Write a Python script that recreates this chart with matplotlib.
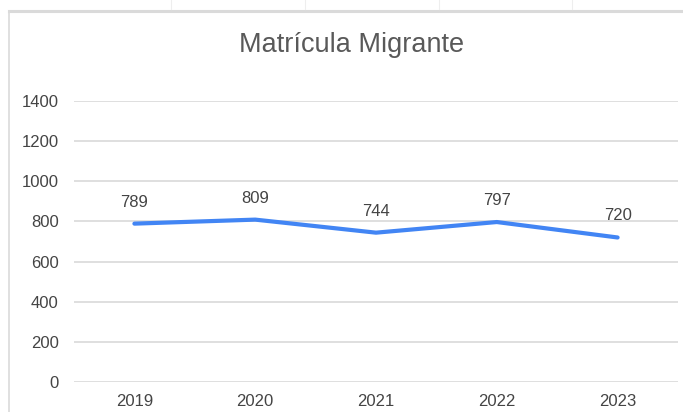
import matplotlib.pyplot as plt
from matplotlib.lines import Line2D

# data
years = ["2019", "2020", "2021", "2022", "2023"]
matricula = [789, 809, 744, 797, 720]
y_ticks = [0, 200, 400, 600, 800, 1000, 1200, 1400]

plt.rcParams['font.family'] = ['Liberation Sans', 'DejaVu Sans']

W, H = 683, 412
fig = plt.figure(figsize=(W / 100, H / 100), dpi=100)
ax = fig.add_axes([74 / W, 30 / H, (678 - 74) / W, (382 - 101) / H])

xs = list(range(len(years)))
ax.plot(xs, matricula, color='#4285F4', linewidth=3.0, solid_capstyle='round',
        solid_joinstyle='round', zorder=3)

# data labels above points
for x, v in zip(xs, matricula):
    ax.annotate(str(v), (x, v), xytext=(0, 15.5), textcoords='offset points',
                ha='center', va='center', fontsize=12, color='#444444')

ax.set_xlim(-0.5, len(years) - 0.5)
ax.set_ylim(0, 1400)
ax.set_yticks(y_ticks)
ax.set_xticks(xs)
ax.set_xticklabels(years)
ax.tick_params(axis='both', length=0, labelsize=12, labelcolor='#444444')
ax.tick_params(axis='y', pad=11)
ax.tick_params(axis='x', pad=9)
ax.grid(axis='y', color='#d9d9d9', linewidth=1.2)
ax.set_axisbelow(True)
for s in ax.spines.values():
    s.set_visible(False)

fig.text(352 / W, 1 - 45 / H, "Matrícula Migrante", ha='center', va='center',
         fontsize=19.5, color='#595959')

# chart frame and spreadsheet cell lines
fig.add_artist(Line2D([9 / W, 1], [1 - 11 / H, 1 - 11 / H], color='#dadada', linewidth=2.2))
fig.add_artist(Line2D([9 / W, 9 / W], [0, 1 - 11 / H], color='#dadada', linewidth=1.2))
for cx in [171, 305, 439, 572]:
    fig.add_artist(Line2D([cx / W, cx / W], [1 - 9 / H, 1], color='#eeeeee', linewidth=0.8))

fig.savefig("out.png", dpi=100)
